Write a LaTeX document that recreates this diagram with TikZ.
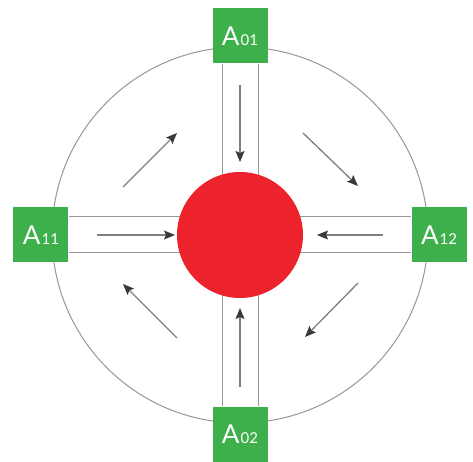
\documentclass[tikz,border=0pt]{standalone}
\usepackage{fontspec}
\newfontfamily\gatefont{Lato}
\usetikzlibrary{arrows.meta,positioning,backgrounds}
\definecolor{leaf}{RGB}{61,176,75}
\definecolor{signal}{RGB}{236,35,45}
\definecolor{rail}{RGB}{150,150,150}
\definecolor{ink}{RGB}{55,58,60}
\tikzset{
  >={Stealth[length=11pt,width=9pt,inset=2pt,color=ink]},
  gate/.style={fill=leaf,text=white,minimum size=55pt,inner sep=0pt,
    font=\gatefont\fontsize{26}{26}\selectfont},
  hub/.style={circle,fill=signal,minimum size=126pt,inner sep=0pt},
  lane/.style={draw=rail,line width=1pt},
  flow/.style={->,draw=ink!65,line width=1.3pt},
}
\newcommand{\gatename}[2]{#1{\fontsize{15}{15}\selectfont\kern1pt#2}}

\begin{document}
\begin{tikzpicture}[x=1pt,y=1pt]
  \useasboundingbox (-240,-227) rectangle (233,235);
  % centre and the four gates
  \node[hub] (core) at (0,0) {};
  \node[gate] (a01) at (0,199) {\gatename{A}{01}};
  \node[gate] (a02) at (0,-199) {\gatename{A}{02}};
  \node[gate] (a11) at (-199,0) {\gatename{A}{11}};
  \node[gate] (a12) at (199,0) {\gatename{A}{12}};
  % ring and lanes behind
  \begin{scope}[on background layer]
    \draw[lane] (core.center) circle (188);
    \foreach \s in {-18,18} {
      \draw[lane] ([xshift=\s]a01.south) -- ([xshift=\s]core.center);
      \draw[lane] ([xshift=\s]a02.north) -- ([xshift=\s]core.center);
      \draw[lane] ([yshift=\s]a11.east) -- ([yshift=\s]core.center);
      \draw[lane] ([yshift=\s]a12.west) -- ([yshift=\s]core.center);
    }
  \end{scope}
  % inflow along the lanes
  \foreach \xa/\ya/\xb/\yb in {0/150/0/73, 0/-152/0/-73, -143/0/-65/0, 143/0/77/0}
    \draw[flow] (\xa,\ya) -- (\xb,\yb);
  % circulation in the ring
  \foreach \xa/\ya/\xb/\yb in {-117/48/-63/102, 63/102/118/49, 118/-48/65/-102, -63/-103/-117/-49}
    \draw[flow] (\xa,\ya) -- (\xb,\yb);
\end{tikzpicture}
\end{document}
